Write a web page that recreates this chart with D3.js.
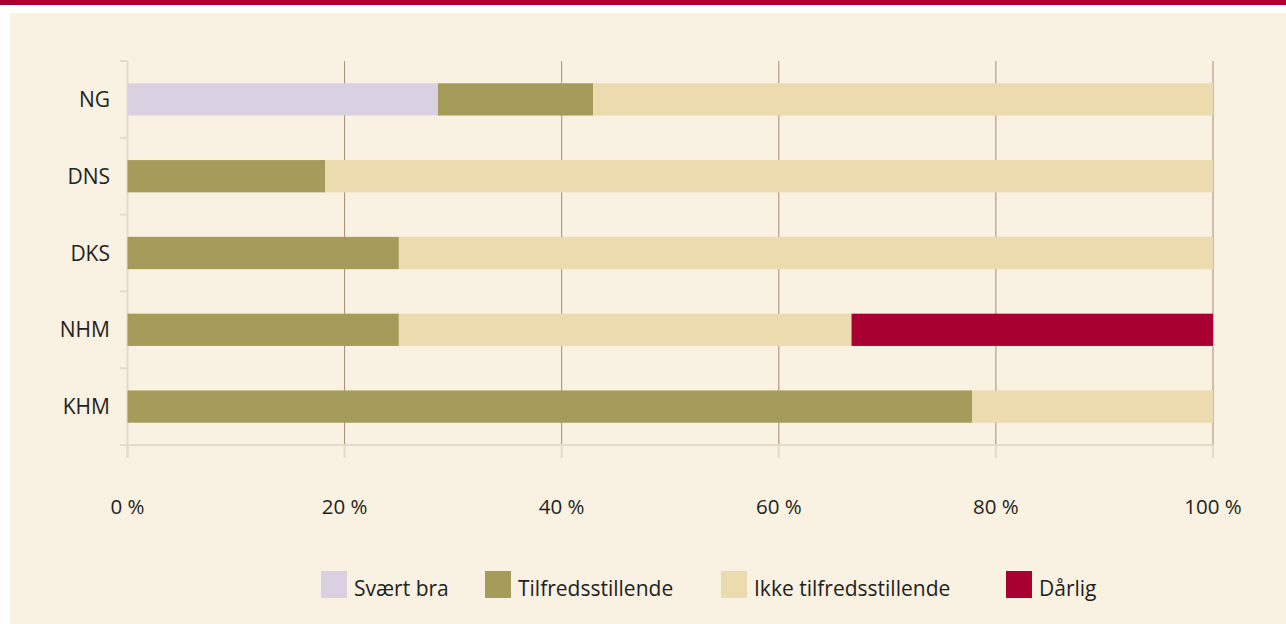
<!DOCTYPE html>
<html>
<head>
<meta charset="utf-8">
<script src="https://cdn.jsdelivr.net/npm/d3@7"></script>
<style>
  body { margin: 0; background: #ffffff; }
  text { font-family: "Open Sans", sans-serif; fill: #231f20; }
</style>
</head>
<body>
<div id="main"></div>
<script>
var categories = ["NG", "DNS", "DKS", "NHM", "KHM"];
var seriesNames = ["Svært bra", "Tilfredsstillende", "Ikke tilfredsstillende", "Dårlig"];
var svaertBra = [28.6, 0, 0, 0, 0];
var tilfreds = [14.3, 18.2, 25, 25, 77.8];
var ikkeTilfreds = [57.1, 81.8, 75, 41.7, 22.2];
var darlig = [0, 0, 0, 33.3, 0];
var xTicks = [0, 20, 40, 60, 80, 100];
var colors = ["#d9d1e1", "#a59b5a", "#ecdbae", "#a80030"];

var rows = categories.map(function(c, i) {
  return { cat: c, "Svært bra": svaertBra[i], "Tilfredsstillende": tilfreds[i], "Ikke tilfredsstillende": ikkeTilfreds[i], "Dårlig": darlig[i] };
});
var stacked = d3.stack().keys(seriesNames)(rows);

var canvas = d3.select("#main").append("svg")
  .attr("width", 1286)
  .attr("height", 624);//create canvas
canvas.append("rect").attr("x", 10).attr("y", 13).attr("width", 1276).attr("height", 611).attr("fill", "#f9f1e1");//panel
canvas.append("rect").attr("x", 0).attr("y", 0).attr("width", 1286).attr("height", 5).attr("fill", "#a8002f");//top band

var xScale = d3.scaleLinear().domain([0, 100]).range([127.5, 1213]);
var yScale = d3.scaleBand().domain(categories).range([61, 445]).paddingInner(0.58).paddingOuter(0.29);
var bandStep = yScale.step();

// gridlines
canvas.append("g").selectAll("line").data(xTicks.slice(1)).enter().append("line")
  .attr("x1", function(d) { return xScale(d); })
  .attr("x2", function(d) { return xScale(d); })
  .attr("y1", 61).attr("y2", 445)
  .attr("stroke", "#a48a76").attr("stroke-width", 1);
// tick extension below axis
canvas.append("g").selectAll("line").data(xTicks).enter().append("line")
  .attr("x1", function(d) { return xScale(d); })
  .attr("x2", function(d) { return xScale(d); })
  .attr("y1", 445).attr("y2", 458)
  .attr("stroke", "#e4dccb").attr("stroke-width", 2);

// left axis
canvas.append("line").attr("x1", xScale(0)).attr("x2", xScale(0)).attr("y1", 61).attr("y2", 458)
  .attr("stroke", "#e4dccb").attr("stroke-width", 2);
canvas.append("g").selectAll("line").data(d3.range(categories.length + 1)).enter().append("line")
  .attr("x1", 120).attr("x2", xScale(0))
  .attr("y1", function(d) { return 61 + d * bandStep; })
  .attr("y2", function(d) { return 61 + d * bandStep; })
  .attr("stroke", "#e4dccb").attr("stroke-width", 2);
// bottom axis
canvas.append("line").attr("x1", 120).attr("x2", xScale(100)).attr("y1", 445).attr("y2", 445)
  .attr("stroke", "#e4dccb").attr("stroke-width", 2);

// bars
canvas.append("g").selectAll("g").data(stacked).enter().append("g")
  .attr("fill", function(d, i) { return colors[i]; })
  .selectAll("rect").data(function(d) { return d; }).enter().append("rect")
  .attr("x", function(d) { return xScale(d[0]); })
  .attr("width", function(d) { return xScale(d[1]) - xScale(d[0]); })
  .attr("y", function(d) { return yScale(d.data.cat); })
  .attr("height", yScale.bandwidth());

// category labels
canvas.append("g").selectAll("text").data(categories).enter().append("text")
  .attr("x", 110)
  .attr("y", function(d) { return yScale(d) + yScale.bandwidth() / 2; })
  .attr("dy", "0.36em")
  .attr("text-anchor", "end")
  .style("font-size", "21px")
  .text(function(d) { return d; });

// x tick labels
canvas.append("g").selectAll("text").data(xTicks).enter().append("text")
  .attr("x", function(d) { return xScale(d); })
  .attr("y", 514)
  .attr("text-anchor", "middle")
  .style("font-size", "20.5px")
  .text(function(d) { return d + " %"; });

// legend
var legendX = [321, 485, 721, 1006];
var legend = canvas.append("g").selectAll("g").data(seriesNames).enter().append("g")
  .attr("transform", function(d, i) { return "translate(" + legendX[i] + ",571)"; });
legend.append("rect").attr("width", 26).attr("height", 27)
  .attr("fill", function(d, i) { return colors[i]; });
legend.append("text").attr("x", 33).attr("y", 25)
  .style("font-size", "21px")
  .text(function(d) { return d; });
</script>
</body>
</html>
